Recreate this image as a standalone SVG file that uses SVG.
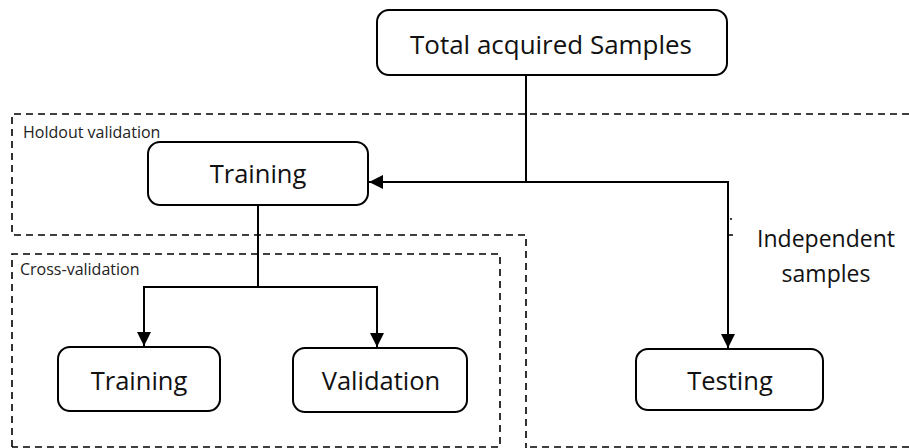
<svg xmlns="http://www.w3.org/2000/svg" width="909" height="448" viewBox="0 0 909 448">
  <defs>
    <marker id="arrow" viewBox="0 0 14 14" refX="14" refY="7" markerWidth="14" markerHeight="14" markerUnits="userSpaceOnUse" orient="auto">
      <path d="M0,0 L14,7 L0,14 Z" fill="#000"/>
    </marker>
    <style>
      .box { fill: #fff; stroke: #000; stroke-width: 2; }
      .dash { fill: none; stroke: #000; stroke-width: 1.6; stroke-dasharray: 7 5; }
      .conn { fill: none; stroke: #000; stroke-width: 2; }
      .lbl { font-family: "Open Sans", "Noto Sans", sans-serif; fill: #111; text-anchor: middle; }
      .big { font-size: 25.5px; }
      .small { font-family: "Open Sans", "Noto Sans", sans-serif; font-size: 16px; fill: #222; }
    </style>
  </defs>
  <rect width="909" height="448" fill="#fff"/>

  <!-- validation regions -->
  <g id="holdout-region">
    <path class="dash" d="M909,114 H12 V235 H526 V448"/>
    <path class="dash" d="M530,447 H909"/>
    <text class="small" x="23" y="138">Holdout validation</text>
  </g>
  <g id="cross-validation-region">
    <path class="dash" d="M12,447 V254 H500 V447 H12"/>
    <text class="small" x="20" y="275">Cross-validation</text>
  </g>

  <!-- connectors -->
  <g id="connectors">
    <path class="conn" d="M526,75 V182 H369" marker-end="url(#arrow)"/>
    <path class="conn" d="M526,182 H728 V348" marker-end="url(#arrow)"/>
    <path class="conn" d="M258,205 V287 H144 V346" marker-end="url(#arrow)"/>
    <path class="conn" d="M258,287 H377 V347" marker-end="url(#arrow)"/>
    <path d="M730,219 h2 M729,235 h4" stroke="#000" stroke-width="1.5"/>
  </g>

  <!-- nodes -->
  <g id="total-samples">
    <rect class="box" x="377" y="10" width="350" height="65" rx="12"/>
    <text class="lbl big" x="551" y="54" textLength="282" lengthAdjust="spacingAndGlyphs">Total acquired Samples</text>
  </g>
  <g id="training-holdout">
    <rect class="box" x="148" y="142" width="220" height="63" rx="12"/>
    <text class="lbl big" x="258" y="183">Training</text>
  </g>
  <g id="training-cv">
    <rect class="box" x="58" y="347" width="162" height="64" rx="12"/>
    <text class="lbl big" x="139" y="390">Training</text>
  </g>
  <g id="validation">
    <rect class="box" x="293" y="348" width="174" height="64" rx="12"/>
    <text class="lbl big" x="381" y="390">Validation</text>
  </g>
  <g id="testing">
    <rect class="box" x="636" y="349" width="187" height="61" rx="12"/>
    <text class="lbl big" x="730" y="390">Testing</text>
  </g>

  <!-- edge annotation -->
  <g id="independent-label">
    <text class="lbl" font-size="23" x="826" y="247">Independent</text>
    <text class="lbl" font-size="23" x="826" y="282">samples</text>
  </g>
</svg>
